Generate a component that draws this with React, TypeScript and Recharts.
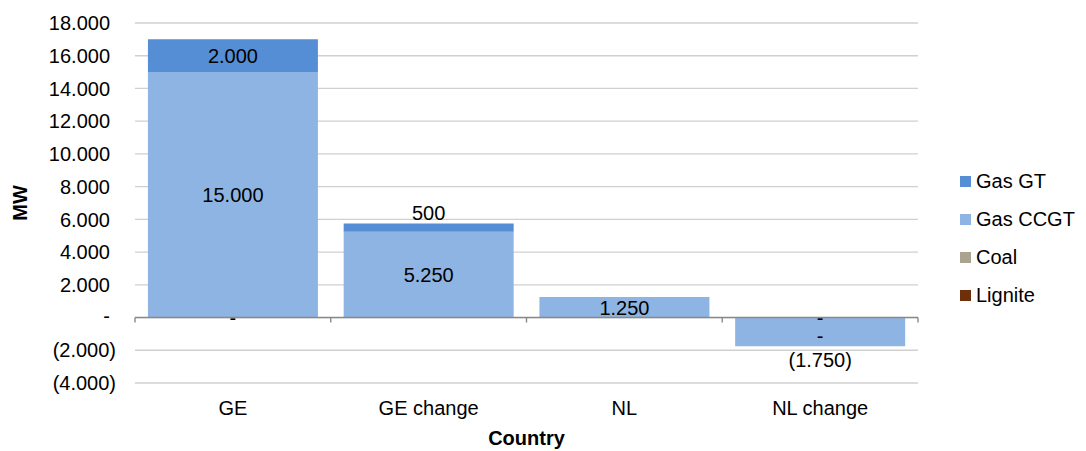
import {
  BarChart,
  Bar,
  XAxis,
  YAxis,
  CartesianGrid,
  Legend,
  ReferenceLine,
  LabelList,
} from 'recharts'

const categories = ['GE', 'GE change', 'NL', 'NL change']
const lignite = [0, 0, 0, 0]
const coal = [0, 0, 0, 0]
const gasCcgt = [15000, 5250, 1250, -1750]
const gasGt = [2000, 500, 0, 0]
const yTicks = [-4000, -2000, 0, 2000, 4000, 6000, 8000, 10000, 12000, 14000, 16000, 18000]
// legend reads top-down like the stack
const legendOrder = ['Gas GT', 'Gas CCGT', 'Coal', 'Lignite']

const data = categories.map((country, i) => ({
  country,
  Lignite: lignite[i],
  Coal: coal[i],
  'Gas CCGT': gasCcgt[i],
  'Gas GT': gasGt[i],
}))

const FONT = "'Liberation Sans', Arial, sans-serif"
const FS = 20

// excel style: 15.000, (1.750), -
function fmt(v: number) {
  if (v === 0) return '-'
  const s = String(Math.abs(v)).replace(/\B(?=(\d{3})+(?!\d))/g, '.')
  return v < 0 ? `(${s})` : s
}

function box(p: any) {
  const vb = p.viewBox ?? p
  const x = Number(vb.x)
  const y = Number(vb.y)
  const w = Number(vb.width)
  const h = Number(vb.height)
  return { cx: x + w / 2, top: Math.min(y, y + h), bottom: Math.max(y, y + h) }
}

// cy is the visual middle of the glyphs
function Txt({ cx, cy, text }: { cx: number; cy: number; text: string }) {
  const base = text === '-' ? cy + 5.5 : cy + 7.2
  return (
    <text x={cx} y={base} textAnchor="middle" fontSize={FS} fontFamily={FONT} fill="#000">
      {text}
    </text>
  )
}

// zero-height bars get no label from recharts, so the "-" labels of lignite/coal
// are drawn along with the ccgt label, at the zero line of that column
function ccgtLabel(p: any) {
  const b = box(p)
  const i = p.index
  const v = gasCcgt[i]
  const zero = v < 0 ? b.top : b.bottom
  const out = []
  if (v < 0) out.push(<Txt key="v" cx={b.cx} cy={b.bottom + 13.5} text={fmt(v)} />)
  else out.push(<Txt key="v" cx={b.cx} cy={(b.top + b.bottom) / 2} text={fmt(v)} />)
  if (i === 3) {
    // lignite and coal stacked closely, one text block
    out.push(
      <text key="lc" textAnchor="middle" fontSize={FS} fontFamily={FONT} fill="#000">
        <tspan x={b.cx} y={zero + 2.3 + 5.5}>{fmt(lignite[i])}</tspan>
        <tspan x={b.cx} y={zero + 20.3 + 5.5}>{fmt(coal[i])}</tspan>
      </text>,
    )
  } else if (i === 0) {
    out.push(<Txt key="l" cx={b.cx} cy={zero + 2.3} text={fmt(lignite[i])} />)
  }
  return <g>{out}</g>
}

function gtLabel(p: any) {
  if (!p.value) return null
  const b = box(p)
  if (b.bottom - b.top < 20) return <Txt cx={b.cx} cy={b.top - 10.5} text={fmt(p.value)} />
  return <Txt cx={b.cx} cy={(b.top + b.bottom) / 2} text={fmt(p.value)} />
}

function YTick(props: any) {
  const { x, y, payload } = props
  const v = payload.value as number
  const xEnd = v < 0 ? x - 19 : x - 25
  const base = v === 0 ? y + 5.5 : y + 7.2
  return (
    <text x={xEnd} y={base} textAnchor="end" fontSize={FS} fontFamily={FONT} fill="#000">
      {fmt(v)}
    </text>
  )
}

function XTick(props: any) {
  const { x, y, payload } = props
  return (
    <text x={x} y={y + 31.7} textAnchor="middle" fontSize={FS} fontFamily={FONT} fill="#000">
      {payload.value}
    </text>
  )
}

function ZeroAxis(p: any) {
  const { x1, x2, y1 } = p
  const n = categories.length
  const step = (x2 - x1) / n
  return (
    <g>
      <line x1={x1} x2={x2} y1={y1} y2={y1} stroke="#898989" strokeWidth={1.4} />
      {Array.from({ length: n + 1 }, (_, i) => (
        <line
          key={i}
          x1={x1 + i * step}
          x2={x1 + i * step}
          y1={y1}
          y2={y1 + 5}
          stroke="#898989"
          strokeWidth={1.4}
        />
      ))}
    </g>
  )
}

function LegendBox({ payload }: any) {
  const items = [...(payload ?? [])].sort(
    (a: any, b: any) => legendOrder.indexOf(a.value) - legendOrder.indexOf(b.value),
  )
  return (
    <div style={{ fontFamily: FONT, fontSize: FS, color: '#000' }}>
      {items.map((it: any) => (
        <div key={it.value} style={{ display: 'flex', alignItems: 'center', height: 37.8 }}>
          <span style={{ width: 11, height: 11, background: it.color, marginRight: 5 }} />
          <span>{it.value}</span>
        </div>
      ))}
    </div>
  )
}

export default function App() {
  return (
    <div style={{ position: 'absolute', left: 0, top: 0, background: '#fff' }}>
      <BarChart
        width={1086}
        height={451}
        data={data}
        margin={{ top: 23, right: 168, bottom: 0, left: 0 }}
        barCategoryGap="6.6%"
      >
        <CartesianGrid vertical={false} stroke="#D0D0D0" strokeWidth={1.3} />
        <XAxis
          dataKey="country"
          height={68}
          axisLine={false}
          tickLine={false}
          tickSize={0}
          tickMargin={0}
          tick={<XTick />}
          label={(p: any) => {
            const vb = p.viewBox
            return (
              <text
                x={vb.x + vb.width / 2}
                y={vb.y + 61.7}
                textAnchor="middle"
                fontSize={FS}
                fontWeight="bold"
                fontFamily={FONT}
                fill="#000"
              >
                Country
              </text>
            )
          }}
        />
        <YAxis
          width={135}
          domain={[-4000, 18000]}
          ticks={yTicks}
          interval={0}
          axisLine={false}
          tickLine={false}
          tickSize={0}
          tickMargin={0}
          tick={<YTick />}
          label={(p: any) => {
            const vb = p.viewBox
            return (
              <text
                transform={`translate(${vb.x + 20}, ${vb.y + vb.height / 2}) rotate(-90)`}
                dy={7.2}
                textAnchor="middle"
                fontSize={FS}
                fontWeight="bold"
                fontFamily={FONT}
                fill="#000"
              >
                MW
              </text>
            )
          }}
        />
        <Legend
          layout="vertical"
          align="center"
          verticalAlign="middle"
          content={<LegendBox />}
          wrapperStyle={{ left: 960, top: 163, width: 126 }}
        />
        <Bar dataKey="Lignite" stackId="a" fill="#6E300A" isAnimationActive={false} />
        <Bar dataKey="Coal" stackId="a" fill="#AAA38F" isAnimationActive={false} />
        <Bar dataKey="Gas CCGT" stackId="a" fill="#8EB4E3" isAnimationActive={false}>
          <LabelList dataKey="Gas CCGT" content={ccgtLabel} />
        </Bar>
        <Bar dataKey="Gas GT" stackId="a" fill="#558ED5" isAnimationActive={false}>
          <LabelList dataKey="Gas GT" content={gtLabel} />
        </Bar>
        <ReferenceLine y={0} shape={ZeroAxis} />
      </BarChart>
    </div>
  )
}
